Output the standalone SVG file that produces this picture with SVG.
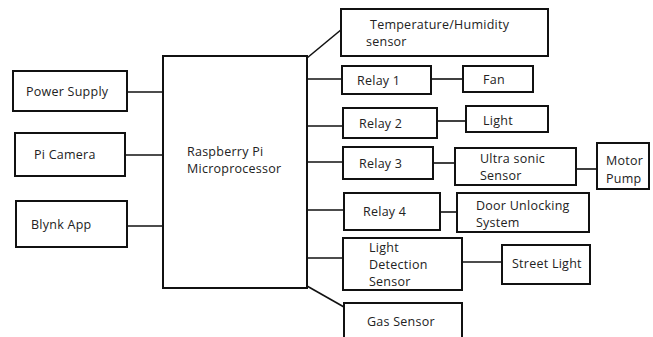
<svg xmlns="http://www.w3.org/2000/svg" width="653" height="337" viewBox="0 0 653 337">
<style>
rect{fill:#fff;stroke:#111;stroke-width:2}
text{font-family:"Open Sans","Liberation Sans",sans-serif;font-size:12.5px;letter-spacing:0.25px;fill:#222}
.c line{stroke:#111;stroke-width:1.6}
</style>
<rect x="0" y="0" width="653" height="337" style="stroke:none"/>
<g class="c">
<line x1="127" y1="92" x2="163" y2="92"/>
<line x1="125" y1="155" x2="163" y2="155"/>
<line x1="127" y1="226" x2="163" y2="226"/>
<line x1="307" y1="58" x2="342" y2="29"/>
<line x1="307" y1="79" x2="342" y2="79"/>
<line x1="431" y1="79" x2="463" y2="79"/>
<line x1="307" y1="126" x2="343" y2="126"/>
<line x1="437" y1="121" x2="466" y2="121"/>
<line x1="307" y1="162" x2="343" y2="162"/>
<line x1="433" y1="163" x2="455" y2="163"/>
<line x1="576" y1="169" x2="597" y2="169"/>
<line x1="307" y1="210" x2="344" y2="210"/>
<line x1="440" y1="212" x2="457" y2="212"/>
<line x1="307" y1="258" x2="343" y2="258"/>
<line x1="462" y1="262" x2="502" y2="262"/>
<line x1="307" y1="286" x2="344" y2="307"/>
</g>
<g id="main"><rect x="163" y="56" width="144" height="232"/><text x="187" y="156">Raspberry Pi</text><text x="187" y="173">Microprocessor</text></g>
<g id="power"><rect x="13" y="71" width="114" height="40"/><text x="26" y="96">Power Supply</text></g>
<g id="camera"><rect x="15" y="133" width="110" height="43"/><text x="34" y="159">Pi Camera</text></g>
<g id="blynk"><rect x="16" y="201" width="111" height="46"/><text x="31" y="229">Blynk App</text></g>
<g id="temp"><rect x="341" y="9" width="207" height="47"/><text x="370" y="29">Temperature/Humidity</text><text x="366" y="46">sensor</text></g>
<g id="relay1"><rect x="342" y="66" width="89" height="28"/><text x="357" y="85">Relay 1</text></g>
<g id="fan"><rect x="463" y="66" width="70" height="26"/><text x="483" y="84">Fan</text></g>
<g id="relay2"><rect x="343" y="108" width="94" height="30"/><text x="359" y="128">Relay 2</text></g>
<g id="light"><rect x="466" y="106" width="82" height="26"/><text x="483" y="125">Light</text></g>
<g id="relay3"><rect x="343" y="147" width="90" height="32"/><text x="359" y="168">Relay 3</text></g>
<g id="ultra"><rect x="455" y="148" width="121" height="37"/><text x="480" y="163">Ultra sonic</text><text x="480" y="180">Sensor</text></g>
<g id="motor"><rect x="597" y="143" width="52" height="46"/><text x="606" y="165">Motor</text><text x="606" y="183">Pump</text></g>
<g id="relay4"><rect x="344" y="193" width="96" height="37"/><text x="363" y="216">Relay 4</text></g>
<g id="door"><rect x="457" y="193" width="132" height="39"/><text x="476" y="210">Door Unlocking</text><text x="476" y="227">System</text></g>
<g id="ldr"><rect x="343" y="238" width="119" height="52"/><text x="369" y="252">Light</text><text x="369" y="269">Detection</text><text x="369" y="286">Sensor</text></g>
<g id="street"><rect x="502" y="245" width="88" height="39"/><text x="512" y="268">Street Light</text></g>
<g id="gas"><rect x="344" y="303" width="118" height="38"/><text x="367" y="326">Gas Sensor</text></g>
</svg>
